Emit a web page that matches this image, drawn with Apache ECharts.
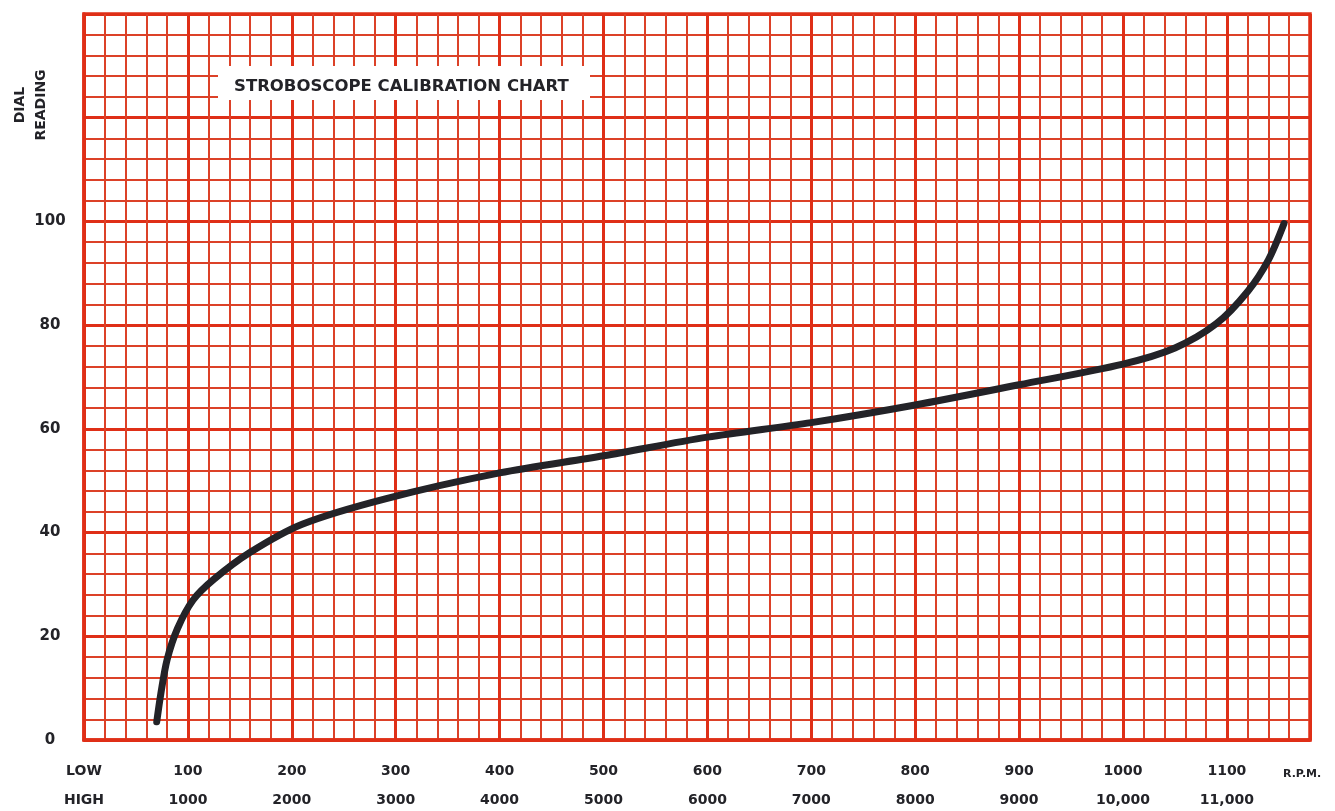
<!DOCTYPE html>
<html>
<head>
<meta charset="utf-8">
<title>Stroboscope Calibration Chart</title>
<script src="https://cdn.jsdelivr.net/npm/echarts@6/dist/echarts.min.js"></script>
<style>
  html, body { margin: 0; padding: 0; background: #fff; }
  #chart { width: 1335px; height: 811px; }
</style>
</head>
<body>
<div id="chart"></div>
<script>
// low range rpm vs dial reading
const rpmLow = [70, 74, 80, 90, 105, 125, 160, 210, 290, 400, 500, 600, 700, 800, 900, 1000, 1050, 1090, 1120, 1140, 1155];
const dialReading = [3.5, 9, 15.5, 21.5, 27, 31, 36.2, 41.6, 46.5, 51.5, 54.8, 58.4, 61.2, 64.6, 68.5, 72.5, 75.6, 80.3, 86.5, 92.6, 99.6];

// tick labels
const xTicks = [0, 100, 200, 300, 400, 500, 600, 700, 800, 900, 1000, 1100];
const lowLabels = ['LOW', '100', '200', '300', '400', '500', '600', '700', '800', '900', '1000', '1100'];
const highLabels = ['HIGH', '1000', '2000', '3000', '4000', '5000', '6000', '7000', '8000', '9000', '10,000', '11,000'];
const yTicks = [0, 20, 40, 60, 80, 100];

const RED = '#df2f17';
const RED_MINOR = '#dc4128';
const INK = '#232328';
const FONT = '"DejaVu Sans", sans-serif';

const chart = echarts.init(document.getElementById('chart'));

chart.setOption({
    backgroundColor: '#ffffff',
    animation: false,
    grid: {
        left: 84,
        right: 25,
        top: 14,
        bottom: 71,
        outerBoundsMode: 'none',
        containLabel: false,
        show: true,
        borderColor: RED,
        borderWidth: 3.5,
        backgroundColor: 'transparent'
    },
    xAxis: [
        { // minor grid, every 20 rpm
            type: 'value',
            min: 0,
            max: 1180,
            interval: 20,
            axisLine: { show: false },
            axisTick: { show: false },
            axisLabel: { show: false },
            splitLine: { show: true, lineStyle: { color: RED_MINOR, width: 2 } }
        },
        { // major grid + labels, every 100 rpm
            type: 'value',
            min: 0,
            max: 1180,
            interval: 100,
            position: 'bottom',
            axisLine: { show: true, lineStyle: { color: RED, width: 3.5 } },
            axisTick: { show: false },
            axisLabel: {
                margin: 17,
                color: INK,
                fontFamily: FONT,
                fontWeight: 'bold',
                fontSize: 14,
                lineHeight: 29,
                showMaxLabel: false,
                formatter: function (v) {
                    const i = xTicks.indexOf(v);
                    return i < 0 ? '' : lowLabels[i] + '\n' + highLabels[i];
                }
            },
            splitLine: { show: true, lineStyle: { color: RED, width: 3 } }
        }
    ],
    yAxis: {
        type: 'value',
        min: 0,
        max: 140,
        interval: 20,
        axisLine: { show: true, lineStyle: { color: RED, width: 3.5 } },
        axisTick: { show: false },
        minorTick: { show: false, splitNumber: 5 },
        axisLabel: {
            margin: 34,
            align: 'center',
            color: INK,
            fontFamily: FONT,
            fontWeight: 'bold',
            fontSize: 15,
            formatter: function (v) {
                return yTicks.indexOf(v) < 0 ? '' : String(v);
            }
        },
        splitLine: { show: true, lineStyle: { color: RED, width: 3 } },
        minorSplitLine: { show: true, lineStyle: { color: RED_MINOR, width: 2 } }
    },
    series: [
        {
            type: 'line',
            xAxisIndex: 1,
            smooth: 0.3,
            showSymbol: false,
            z: 10,
            lineStyle: { color: INK, width: 7, cap: 'round' },
            data: rpmLow.map((x, i) => [x, dialReading[i]])
        }
    ],
    graphic: [
        {
            type: 'rect',
            left: 218,
            top: 66,
            z: 50,
            shape: { width: 372, height: 34 },
            style: { fill: '#ffffff' }
        },
        {
            type: 'text',
            left: 234,
            top: 78,
            z: 51,
            style: {
                text: 'STROBOSCOPE CALIBRATION CHART',
                fill: INK,
                font: 'bold 16.5px ' + FONT
            }
        },
        {
            type: 'text',
            x: 31,
            y: 105,
            rotation: Math.PI / 2,
            z: 51,
            style: {
                text: 'DIAL\nREADING',
                fill: INK,
                font: 'bold 14px ' + FONT,
                align: 'center',
                verticalAlign: 'middle',
                lineHeight: 21
            }
        },
        {
            type: 'text',
            left: 1283,
            top: 769,
            z: 51,
            style: {
                text: 'R.P.M.',
                fill: INK,
                font: 'bold 11px ' + FONT
            }
        }
    ]
});
</script>
</body>
</html>
